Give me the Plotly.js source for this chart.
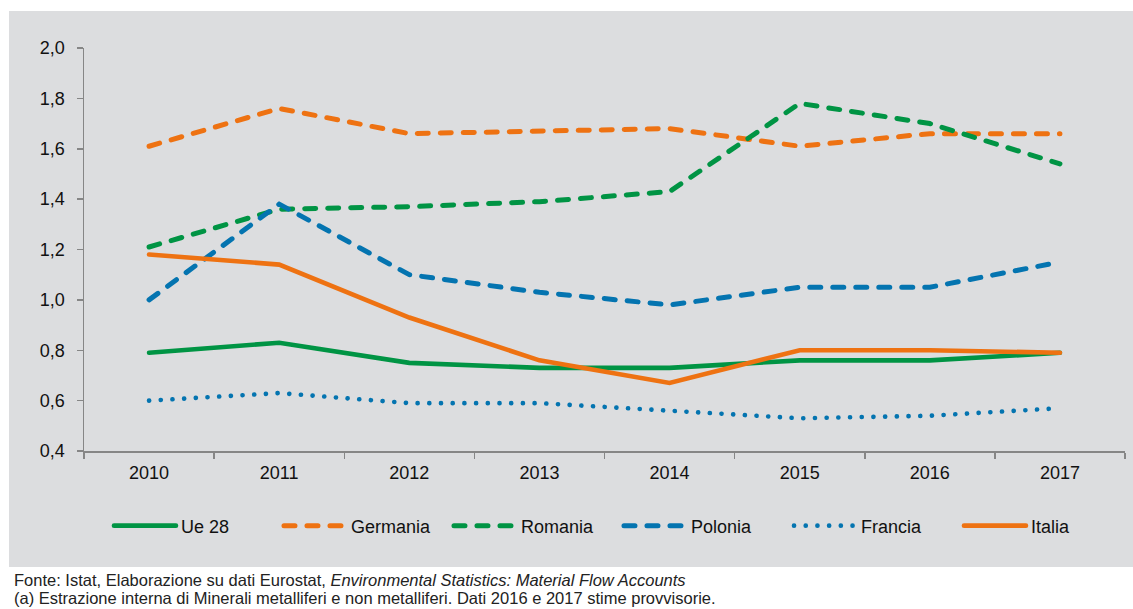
<!DOCTYPE html>
<html><head><meta charset="utf-8">
<script src="https://cdn.plot.ly/plotly-3.0.1.min.js"></script>
<style>
html,body{margin:0;padding:0;background:#ffffff;}
#bg{position:absolute;left:9px;top:11px;width:1124px;height:556px;background:#dcdddf;}
#chart{position:absolute;left:0;top:0;width:1133px;height:609px;}
#chart path.js-line{stroke-linecap:round;}
</style></head>
<body>
<div id="bg"></div>
<div id="chart"></div>
<script>
const years = ['2010','2011','2012','2013','2014','2015','2016','2017'];
const ue28     = [0.79, 0.83, 0.75, 0.73, 0.73, 0.76, 0.76, 0.79];
const germania = [1.61, 1.76, 1.66, 1.67, 1.68, 1.61, 1.66, 1.66];
const romania  = [1.21, 1.36, 1.37, 1.39, 1.43, 1.78, 1.70, 1.54];
const polonia  = [1.00, 1.38, 1.10, 1.03, 0.98, 1.05, 1.05, 1.15];
const francia  = [0.60, 0.63, 0.59, 0.59, 0.56, 0.53, 0.54, 0.57];
const italia   = [1.18, 1.14, 0.93, 0.76, 0.67, 0.80, 0.80, 0.79];
const seriesNames = ['Ue 28','Germania','Romania','Polonia','Francia','Italia'];

const GREEN = '#009444', ORANGE = '#ee7212', BLUE = '#0474b0';
const DASH = '11px,12px', DOT = '0.1px,11.6px';

function tr(name, y, color, dash, width){
  return {type:'scatter', mode:'lines', name:name, x:years, y:y,
    line:{color:color, width:width, dash:dash}, hoverinfo:'x+y+name'};
}
const data = [
  tr(seriesNames[0], ue28, GREEN, 'solid', 4.6),
  tr(seriesNames[1], germania, ORANGE, DASH, 5),
  tr(seriesNames[2], romania, GREEN, DASH, 5),
  tr(seriesNames[3], polonia, BLUE, DASH, 5),
  tr(seriesNames[4], francia, BLUE, DOT, 4.6),
  tr(seriesNames[5], italia, ORANGE, 'solid', 4.6)
];

const FONT = 'Liberation Sans, Arial, sans-serif';
const layout = {
  width:1133, height:609,
  margin:{l:84, r:8, t:48, b:158, autoexpand:false},
  paper_bgcolor:'rgba(0,0,0,0)', plot_bgcolor:'rgba(0,0,0,0)',
  separators:',.',
  font:{family:FONT, size:18, color:'#111111'},
  showlegend:true,
  legend:{orientation:'h', x:0.024, xanchor:'left', y:-0.186, yanchor:'middle',
    bgcolor:'rgba(0,0,0,0)', font:{family:FONT, size:18, color:'#111111'},
    entrywidth:93, entrywidthmode:'pixels', itemwidth:62, traceorder:'normal'},
  xaxis:{type:'category', range:[-0.5,7.5], tickson:'boundaries', ticks:'outside',
    ticklen:6, tickcolor:'#868686', tickwidth:1.5, showline:true, linecolor:'#868686',
    linewidth:1.5, showgrid:false, zeroline:false, ticklabelstandoff:5,
    tickfont:{family:FONT, size:18, color:'#111111'}, fixedrange:true},
  yaxis:{range:[0.4,2.0], dtick:0.2, tick0:0.4, tickformat:'.1f', ticks:'outside',
    ticklen:6, tickcolor:'#868686', tickwidth:1.5, showline:true, linecolor:'#868686',
    linewidth:1.5, showgrid:false, zeroline:false, ticklabelstandoff:8,
    tickfont:{family:FONT, size:18, color:'#111111'}, fixedrange:true},
  annotations:[
    {xref:'paper', yref:'paper', x:-0.069, y:-0.32, xanchor:'left', yanchor:'middle', showarrow:false,
     text:'Fonte: Istat, Elaborazione su dati Eurostat, <i>Environmental Statistics: Material Flow Accounts</i>',
     font:{family:FONT, size:16.5, color:'#222222'}},
    {xref:'paper', yref:'paper', x:-0.069, y:-0.365, xanchor:'left', yanchor:'middle', showarrow:false,
     text:'(a) Estrazione interna di Minerali metalliferi e non metalliferi. Dati 2016 e 2017 stime provvisorie.',
     font:{family:FONT, size:16.5, color:'#222222'}}
  ]
};
Plotly.newPlot('chart', data, layout, {displayModeBar:false, staticPlot:true});
</script>
</body></html>
